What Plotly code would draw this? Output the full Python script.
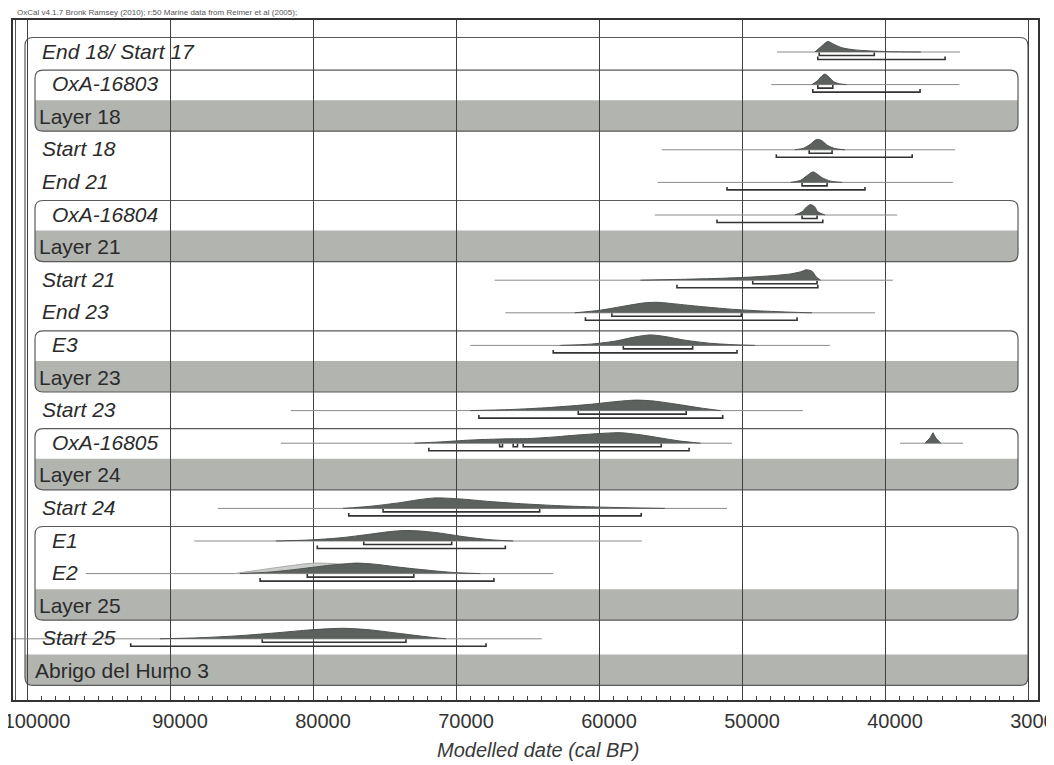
import plotly.graph_objects as go

# ------------------------------------------------------------------ data
row_labels = ["End 18/ Start 17", "OxA-16803", "Layer 18", "Start 18", "End 21",
              "OxA-16804", "Layer 21", "Start 21", "End 23", "E3", "Layer 23",
              "Start 23", "OxA-16805", "Layer 24", "Start 24", "E1", "E2",
              "Layer 25", "Start 25", "Abrigo del Humo 3"]
# item = element of the sequence, pitem = element inside a phase,
# phase = phase label, seq = sequence label
row_kind = ["item", "pitem", "phase", "item", "item", "pitem", "phase",
            "item", "item", "pitem", "phase", "item", "pitem", "phase",
            "item", "pitem", "pitem", "phase", "item", "seq"]

# phases: (first row, label row)
phase_first = [1, 5, 9, 12, 15]
phase_label = [2, 6, 10, 13, 17]
seq_first, seq_label = 0, 19

# rows carrying a distribution
dist_rows = [0, 1, 3, 4, 5, 7, 8, 9, 11, 12, 14, 15, 16, 18]
prior_from = [47550, 47950, 55600, 55900, 56100, 67300, 66550, 69000, 81550,
              82250, 86650, 88300, 95900, 101000]
prior_to = [34750, 34800, 35100, 35250, 39150, 39450, 40700, 43850, 45750,
            50700, 51050, 57000, 63200, 64000]

# modelled posteriors (cal BP, relative density)
end18_yr = [44900, 44400, 44000, 43600, 43000, 42100, 41000, 39700, 37500]
end18_d = [0, 0.6, 1, 0.75, 0.4, 0.2, 0.1, 0.03, 0]
oxa16803_yr = [45100, 44700, 44400, 44200, 43900, 43600, 43200, 42700]
oxa16803_d = [0, 0.4, 0.85, 1, 0.7, 0.3, 0.08, 0]
start18_yr = [46300, 45700, 45200, 44900, 44700, 44400, 44000, 43500, 42800]
start18_d = [0, 0.15, 0.55, 0.9, 1, 0.85, 0.4, 0.12, 0]
end21_yr = [46600, 45900, 45500, 45200, 45000, 44800, 44400, 43800, 43000]
end21_d = [0, 0.2, 0.6, 0.9, 1, 0.85, 0.45, 0.12, 0]
oxa16804_yr = [46300, 45800, 45500, 45200, 44900, 44700, 44200]
oxa16804_d = [0, 0.3, 0.75, 1, 0.75, 0.3, 0]
start21_yr = [57100, 54300, 51500, 49400, 47700, 46600, 45900, 45500, 45100, 44800, 44500]
start21_d = [0, 0.08, 0.18, 0.3, 0.45, 0.6, 0.8, 1, 0.85, 0.3, 0]
end23_yr = [61700, 59900, 58200, 56800, 55900, 54700, 52900, 50800, 48700, 46600, 45100]
end23_d = [0, 0.25, 0.65, 0.95, 1, 0.85, 0.6, 0.35, 0.18, 0.06, 0]
e3_yr = [62700, 60600, 58900, 57500, 56400, 55400, 54000, 52200, 50500, 49100]
e3_d = [0, 0.12, 0.4, 0.8, 1, 0.85, 0.5, 0.2, 0.06, 0]
start23_yr = [69000, 66200, 63400, 60600, 58900, 57400, 56100, 54300, 52900, 51500]
start23_d = [0, 0.1, 0.3, 0.6, 0.85, 1, 0.9, 0.55, 0.25, 0]
oxa16805_yr = [72900, 71100, 69000, 66900, 64800, 63100, 61300, 59600, 58500,
               57100, 55700, 54300, 52900]
oxa16805_d = [0, 0.12, 0.3, 0.4, 0.45, 0.6, 0.8, 0.95, 1, 0.8, 0.5, 0.2, 0]
start24_yr = [77900, 76000, 73900, 72500, 71400, 69700, 67600, 65500, 62700,
              59900, 57100, 55400]
start24_d = [0, 0.2, 0.55, 0.85, 1, 0.9, 0.65, 0.45, 0.25, 0.12, 0.04, 0]
e1_yr = [82600, 80200, 78100, 76000, 74600, 73600, 72500, 71100, 69400, 67600, 66000]
e1_d = [0, 0.1, 0.3, 0.65, 0.9, 1, 0.95, 0.75, 0.4, 0.12, 0]
e2_yr = [85100, 83000, 80900, 78800, 77400, 76900, 75700, 73900, 71800, 70100, 68300]
e2_d = [0, 0.15, 0.45, 0.8, 0.97, 1, 0.9, 0.6, 0.3, 0.1, 0]
start25_yr = [90700, 87900, 85100, 82300, 80200, 77900, 76000, 73900, 72100, 70700]
start25_d = [0, 0.1, 0.3, 0.6, 0.85, 1, 0.85, 0.5, 0.2, 0]

post_yr = [end18_yr, oxa16803_yr, start18_yr, end21_yr, oxa16804_yr, start21_yr,
           end23_yr, e3_yr, start23_yr, oxa16805_yr, start24_yr, e1_yr, e2_yr, start25_yr]
post_d = [end18_d, oxa16803_d, start18_d, end21_d, oxa16804_d, start21_d,
          end23_d, e3_d, start23_d, oxa16805_d, start24_d, e1_d, e2_d, start25_d]

# unmodelled likelihoods shown separately
e2_unmod_yr = [85500, 83700, 81600, 79900, 78100, 76000, 73900, 71800, 69700]
e2_unmod_d = [0, 0.35, 0.75, 1, 0.9, 0.6, 0.3, 0.1, 0]
oxa16805_unmod_yr = [37200, 36850, 36650, 36450, 36100]
oxa16805_unmod_d = [0, 0.5, 1, 0.5, 0]
oxa16805_unmod_from, oxa16805_unmod_to = 38950, 34550

# highest posterior density ranges
hpd68_row = [0, 1, 3, 4, 5, 7, 8, 9, 11, 12, 12, 12, 14, 15, 16, 18]
hpd68_from = [44600, 44700, 45300, 45800, 45800, 49250, 59100, 58300, 61450,
              66950, 66000, 65300, 75100, 76450, 80400, 83550]
hpd68_to = [40750, 43650, 43700, 44050, 44750, 44750, 50050, 53450, 53900,
            66750, 65700, 55650, 64150, 70300, 72950, 73500]
hpd95_row = [0, 1, 3, 4, 5, 7, 8, 9, 11, 12, 14, 15, 16, 18]
hpd95_from = [44700, 45050, 47600, 51050, 51750, 54550, 60950, 63200, 68400,
              71900, 77500, 79700, 83700, 92750]
hpd95_to = [35800, 37550, 38100, 41400, 44350, 44700, 46150, 50350, 51350,
            53700, 57050, 66550, 67350, 67900]

header = "OxCal v4.1.7 Bronk Ramsey (2010); r:50 Marine data from Reimer et al (2005);"
x_title = "Modelled date (cal BP)"

# ------------------------------------------------------------------ style
BODY = 8                       # default page margin around the figure
W, H = 1054 - BODY, 765 - BODY
ML, MR, MT, MB = 13 - BODY, 16, 20 - BODY, 65
PW, PH = W - ML - MR, H - MT - MB
ROW_PX = 32.6
FIRST_ROW_PX = 31  # offset of first row centre from plot top
PX = 1.0 / ROW_PX
Y_TOP = -FIRST_ROW_PX / ROW_PX
Y_BOT = Y_TOP + PH / ROW_PX
X_LEFT, X_RIGHT = 100979, 29301
FONT = "Liberation Sans, Arial, sans-serif"
TXT = "#2b2b2b"
DARK = "#5c615e"
PEAK_PX = 10.5
BASE_OFF = 1 * PX
R68_OFF = 4.5 * PX
R95_OFF = 8.5 * PX
TICK = 3 * PX


def px2paper(px):
    """page pixel (reference picture) -> paper fraction"""
    return (px - BODY - ML) / PW


fig = go.Figure()

# priors, posteriors
for i, r in enumerate(dist_rows):
    yb = r + BASE_OFF
    fig.add_trace(go.Scatter(x=[prior_from[i], prior_to[i]], y=[yb, yb], mode="lines",
                             line=dict(color="#8a8a8a", width=1), hoverinfo="skip"))
    if r == 16:
        fig.add_trace(go.Scatter(x=e2_unmod_yr, y=[yb - d * PEAK_PX * PX for d in e2_unmod_d],
                                 mode="lines", fill="toself", fillcolor="rgba(195,197,195,0.85)",
                                 line=dict(color="#a8aaa8", width=1, shape="spline", smoothing=0.7),
                                 hoverinfo="skip"))
    if r == 12:
        fig.add_trace(go.Scatter(x=[oxa16805_unmod_from, oxa16805_unmod_to], y=[yb, yb], mode="lines",
                                 line=dict(color="#8a8a8a", width=1), hoverinfo="skip"))
        fig.add_trace(go.Scatter(x=oxa16805_unmod_yr, y=[yb - d * PEAK_PX * PX for d in oxa16805_unmod_d],
                                 mode="lines", fill="toself", fillcolor=DARK,
                                 line=dict(color="#4d524f", width=1), hoverinfo="skip"))
    fig.add_trace(go.Scatter(x=post_yr[i], y=[yb - d * PEAK_PX * PX for d in post_d[i]],
                             mode="lines", fill="toself", fillcolor=DARK,
                             line=dict(color="#4d524f", width=1, shape="spline", smoothing=0.7),
                             hoverinfo="skip"))


def brackets(rows, x0s, x1s, off):
    xs, ys = [], []
    for r, a, b in zip(rows, x0s, x1s):
        y = r + off
        xs += [a, a, b, b, None]
        ys += [y - TICK, y, y, y - TICK, None]
    return xs, ys


for rows, a, b, off in [(hpd68_row, hpd68_from, hpd68_to, R68_OFF),
                        (hpd95_row, hpd95_from, hpd95_to, R95_OFF)]:
    xs, ys = brackets(rows, a, b, off)
    fig.add_trace(go.Scatter(x=xs, y=ys, mode="lines", line=dict(color="#333333", width=1.6),
                             hoverinfo="skip"))

# ------------------------------------------------------------------ boxes
RX = 8 / PW
RY = 8 * PX


def rrect(x0, x1, y0, y1):
    return (f"M {x0+RX},{y0} L {x1-RX},{y0} Q {x1},{y0} {x1},{y0+RY} L {x1},{y1-RY} "
            f"Q {x1},{y1} {x1-RX},{y1} L {x0+RX},{y1} Q {x0},{y1} {x0},{y1-RY} "
            f"L {x0},{y0+RY} Q {x0},{y0} {x0+RX},{y0} Z")


def band(x0, x1, y0, y1):
    return (f"M {x0},{y0} L {x1},{y0} L {x1},{y1-RY} Q {x1},{y1} {x1-RX},{y1} "
            f"L {x0+RX},{y1} Q {x0},{y1} {x0},{y1-RY} Z")


BAND_TOP = 16 * PX
BAND_BOT = 15 * PX
BOX_TOP = 13.5 * PX
shapes = []
boxes = [(seq_first, seq_label, px2paper(25), px2paper(1028))]
boxes += [(f, l, px2paper(35), px2paper(1018)) for f, l in zip(phase_first, phase_label)]
for f, l, x0, x1 in boxes:
    shapes.append(dict(type="path", xref="paper", yref="y", layer="below",
                       path=band(x0, x1, l - BAND_TOP, l + BAND_BOT),
                       fillcolor="#b2b4b0", line=dict(width=0)))
    shapes.append(dict(type="path", xref="paper", yref="y", layer="below",
                       path=rrect(x0, x1, f - BOX_TOP, l + BAND_BOT),
                       line=dict(color="#5a5a5a", width=1.2)))
# inner rule of the doubled left frame edge
shapes.append(dict(type="line", xref="paper", yref="paper", x0=px2paper(15.5), x1=px2paper(15.5),
                   y0=0, y1=1, line=dict(color="#555", width=1), layer="above"))

# ------------------------------------------------------------------ labels
indent = {"item": 40, "pitem": 50, "phase": 37, "seq": 33}
ann = []
for r, (lab, kind) in enumerate(zip(row_labels, row_kind)):
    italic = kind in ("item", "pitem")
    ann.append(dict(x=px2paper(indent[kind]), xref="paper", y=r, yref="y", text=lab,
                    showarrow=False, xanchor="left", yanchor="middle",
                    font=dict(family=FONT, size=21, color=TXT,
                              style="italic" if italic else "normal")))
ann.append(dict(x=px2paper(15), xref="paper", y=1 + 1 / PH, yref="paper", text=header,
                showarrow=False, xanchor="left", yanchor="bottom",
                font=dict(family=FONT, size=8, color="#555")))
ann.append(dict(x=px2paper(538), xref="paper", y=-50 / PH, yref="paper", text=x_title,
                showarrow=False, xanchor="center", yanchor="middle",
                font=dict(family=FONT, size=20, color="#3a3a3a", style="italic")))

fig.update_layout(
    width=W, height=H,
    margin=dict(l=ML, r=MR, t=MT, b=MB, pad=0, autoexpand=False),
    paper_bgcolor="white", plot_bgcolor="white", showlegend=False,
    shapes=shapes, annotations=ann,
    xaxis=dict(range=[X_LEFT, X_RIGHT], showgrid=True, gridcolor="#404040", gridwidth=1,
               tick0=0, dtick=10000, tickformat="d", ticks="", zeroline=False,
               showline=True, linecolor="#333", linewidth=2, mirror=True,
               tickfont=dict(family=FONT, size=20, color="#333"),
               ticklabelshift=-10, ticklabelstandoff=2, ticklabeloverflow="allow",
               minor=dict(tick0=0, dtick=1000, ticks="inside", ticklen=4,
                          tickcolor="#444", tickwidth=1, showgrid=False),
               fixedrange=True),
    yaxis=dict(range=[Y_BOT, Y_TOP], showgrid=False, showticklabels=False, ticks="",
               zeroline=False, showline=True, linecolor="#333", linewidth=2, mirror=True,
               fixedrange=True),
)

fig.write_html("out.html")
